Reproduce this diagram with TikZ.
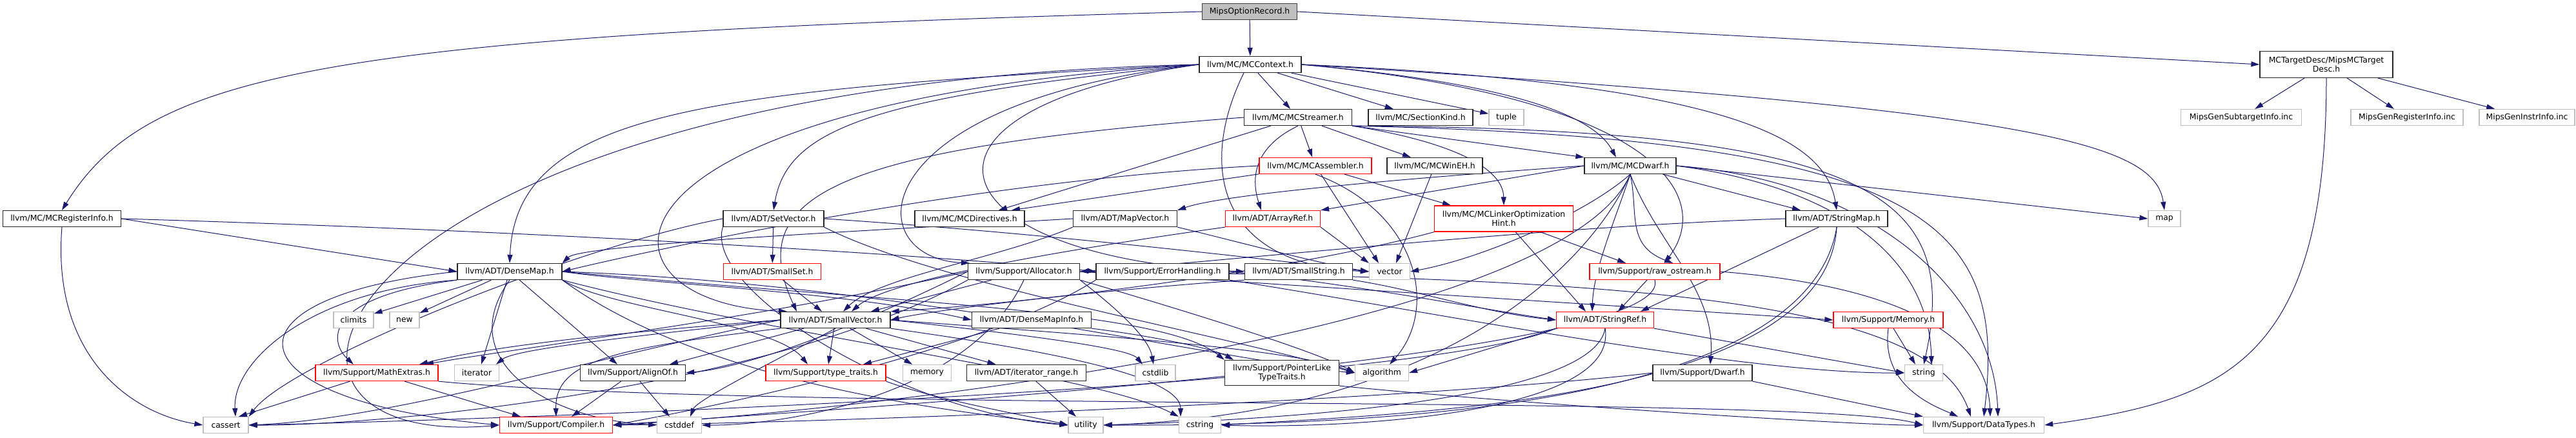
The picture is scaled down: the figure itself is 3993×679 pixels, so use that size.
\documentclass[tikz,border=0pt]{standalone}
\usepackage{fontspec}
\setmainfont{DejaVu Sans}
\usetikzlibrary{arrows.meta,backgrounds}
\definecolor{gline}{HTML}{191970}
\definecolor{gsysc}{HTML}{BFBFBF}
\tikzset{
  g graph/.style={x=1pt, y=1pt, font=\fontsize{12.4}{14}\selectfont},
  g box/.style={draw, line width=1.3pt, fill=white, align=center, minimum height=25, inner sep=0pt},
  g doc/.style={g box, draw=black!85},
  g red/.style={g box, draw=red},
  g sys/.style={g box, draw=gsysc},
  g top/.style={g box, draw=black!75, fill=gsysc},
  g arr/.style={draw=gline, line width=1pt, -{Triangle[length=13pt, width=8pt]}},
}
\begin{document}
\begin{tikzpicture}[g graph]
\useasboundingbox (0,0) rectangle (3993,-679);
% ---- rows 0-3 ----
\node[g top, minimum width=147] (mor) at (1937,-18) {MipsOptionRecord.h};
\node[g doc, minimum width=158] (ctx) at (1938,-100) {llvm/MC/MCContext.h};
\node[g doc, minimum width=206, minimum height=41] (td) at (3606,-100) {MCTargetDesc/MipsMCTarget\\Desc.h};
\node[g doc, minimum width=167] (str) at (2012,-182) {llvm/MC/MCStreamer.h};
\node[g doc, minimum width=162] (sk) at (2202,-182) {llvm/MC/SectionKind.h};
\node[g sys, minimum width=54] (tup) at (2335,-182) {tuple};
\node[g sys, minimum width=187] (gsub) at (3474,-182) {MipsGenSubtargetInfo.inc};
\node[g sys, minimum width=174] (greg) at (3731,-182) {MipsGenRegisterInfo.inc};
\node[g sys, minimum width=148] (gins) at (3917,-182) {MipsGenInstrInfo.inc};
\node[g red, minimum width=174] (asm) at (2039,-257) {llvm/MC/MCAssembler.h};
\node[g doc, minimum width=148] (weh) at (2224,-257) {llvm/MC/MCWinEH.h};
\node[g doc, minimum width=142] (dwf) at (2527,-257) {llvm/MC/MCDwarf.h};
% ---- row 4 ----
\node[g doc, minimum width=183] (reg) at (96,-339) {llvm/MC/MCRegisterInfo.h};
\node[g doc, minimum width=156] (setv) at (1199,-339) {llvm/ADT/SetVector.h};
\node[g doc, minimum width=170] (dir) at (1503,-339) {llvm/MC/MCDirectives.h};
\node[g doc, minimum width=161] (mapv) at (1744,-339) {llvm/ADT/MapVector.h};
\node[g red, minimum width=147] (aref) at (1973,-339) {llvm/ADT/ArrayRef.h};
\node[g red, minimum width=215, minimum height=40] (loh) at (2331,-339) {llvm/MC/MCLinkerOptimization\\Hint.h};
\node[g doc, minimum width=158] (smap) at (2847,-339) {llvm/ADT/StringMap.h};
\node[g sys, minimum width=50] (map) at (3355,-339) {map};
% ---- row 5 ----
\node[g doc, minimum width=162] (dmap) at (790,-421) {llvm/ADT/DenseMap.h};
\node[g red, minimum width=151] (sset) at (1197,-421) {llvm/ADT/SmallSet.h};
\node[g doc, minimum width=173] (alloc) at (1587,-421) {llvm/Support/Allocator.h};
\node[g doc, minimum width=206] (err) at (1802,-421) {llvm/Support/ErrorHandling.h};
\node[g doc, minimum width=167] (sstr) at (2013,-421) {llvm/ADT/SmallString.h};
\node[g sys, minimum width=63] (vec) at (2154,-421) {vector};
\node[g red, minimum width=202] (ros) at (2565,-421) {llvm/Support/raw\_ostream.h};
% ---- row 6 ----
\node[g sys, minimum width=62] (clim) at (548,-496) {climits};
\node[g sys, minimum width=46] (new) at (627,-496) {new};
\node[g doc, minimum width=170] (svec) at (1295,-496) {llvm/ADT/SmallVector.h};
\node[g doc, minimum width=185] (dmi) at (1599,-496) {llvm/ADT/DenseMapInfo.h};
\node[g red, minimum width=151] (sref) at (2488,-496) {llvm/ADT/StringRef.h};
\node[g red, minimum width=170] (mem) at (2927,-496) {llvm/Support/Memory.h};
% ---- row 7 ----
\node[g red, minimum width=190] (mext) at (584,-578) {llvm/Support/MathExtras.h};
\node[g sys, minimum width=69] (iter) at (739,-578) {iterator};
\node[g doc, minimum width=163] (algn) at (981,-578) {llvm/Support/AlignOf.h};
\node[g red, minimum width=186] (tt) at (1280,-578) {llvm/Support/type\_traits.h};
\node[g sys, minimum width=75] (memo) at (1437,-578) {memory};
\node[g doc, minimum width=185] (itr) at (1591,-578) {llvm/ADT/iterator\_range.h};
\node[g sys, minimum width=62] (cstdlib) at (1791,-578) {cstdlib};
\node[g doc, minimum width=177, minimum height=39] (plt) at (1987,-578) {llvm/Support/PointerLike\\TypeTraits.h};
\node[g sys, minimum width=83] (algo) at (2142,-578) {algorithm};
\node[g doc, minimum width=154] (dw) at (2639,-578) {llvm/Support/Dwarf.h};
\node[g sys, minimum width=59] (strg) at (2982,-578) {string};
% ---- row 8 ----
\node[g sys, minimum width=70] (cas) at (350,-659) {cassert};
\node[g red, minimum width=175] (comp) at (862,-659) {llvm/Support/Compiler.h};
\node[g sys, minimum width=69] (cstddef) at (1053,-659) {cstddef};
\node[g sys, minimum width=54] (util) at (1683,-659) {utility};
\node[g sys, minimum width=65] (cstr) at (1860,-659) {cstring};
\node[g sys, minimum width=187] (dt) at (3075,-659) {llvm/Support/DataTypes.h};
\begin{scope}[on background layer]
% ---- MipsOptionRecord.h, MipsMCTargetDesc.h ----
\draw[g arr] (mor.west) .. controls (500,-55) and (230,-110) .. (reg.north);
\draw[g arr] (mor) -- (ctx);
\draw[g arr] (mor.east) -- (td.west);
\draw[g arr] (td) -- (gsub); \draw[g arr] (td) -- (greg); \draw[g arr] (td) -- (gins);
\draw[g arr] (td.south) .. controls (3606,-560) and (3450,-620) .. (dt.east);
% ---- MCContext.h ----
\draw[g arr] (ctx) -- (str); \draw[g arr] (ctx) -- (sk); \draw[g arr] (ctx) -- (tup);
\draw[g arr] (ctx.east) .. controls (2350,-130) and (2470,-180) .. ([xshift=-22]dwf.north);
\draw[g arr] (ctx.east) .. controls (2560,-150) and (2660,-300) .. ([xshift=15]ros.north);
\draw[g arr] (ctx.east) .. controls (2700,-130) and (2830,-220) .. (smap.north);
\draw[g arr] (ctx.east) .. controls (3150,-170) and (3340,-220) .. (map.north);
\draw[g arr] (ctx.west) .. controls (1100,-140) and (800,-170) .. (dmap.north);
\draw[g arr] (ctx.west) .. controls (500,-130) and (300,-700) .. (comp.west);
\draw[g arr] (ctx.west) .. controls (880,-160) and (900,-470) .. ([xshift=-75]svec.north);
\draw[g arr] (ctx.west) .. controls (1350,-150) and (1220,-200) .. (setv.north);
\draw[g arr] (ctx.west) .. controls (1330,-160) and (1330,-400) .. ([xshift=3]alloc.north west);
\draw[g arr] (ctx.west) .. controls (1360,-170) and (1450,-400) .. (sstr.west);
\draw[g arr] ([xshift=-10]ctx.south) .. controls (1860,-250) and (1880,-410) .. (vec.west);
% ---- MCStreamer.h ----
\draw[g arr] (str) -- (asm); \draw[g arr] (str) -- (weh);
\draw[g arr] (str.south east) .. controls (2250,-220) and (2330,-260) .. (loh.north);
\draw[g arr] (str.south east) -- (dwf.north west);
\draw[g arr] (str) -- ([xshift=45]dir.north);
\draw[g arr] (str.south) .. controls (1940,-230) and (1940,-280) .. ([xshift=-18]aref.north);
\draw[g arr] (str.west) .. controls (1300,-230) and (1150,-300) .. ([xshift=-60]svec.north);
\draw[g arr] (str.south east) .. controls (2900,-200) and (3040,-300) .. (strg.north);
\draw[g arr] (str.south east) .. controls (3000,-215) and (3110,-350) .. (dt.north);
% ---- MCAssembler.h, MCWinEH.h ----
\draw[g arr] (asm) -- ([xshift=65]dir.north);
\draw[g arr] (asm) -- ([xshift=-82]loh.north);
\draw[g arr] (asm) -- ([xshift=-17]vec.north);
\draw[g arr] (asm.south) .. controls (2200,-330) and (2230,-480) .. ([xshift=12]algo.north);
\draw[g arr] (asm.west) .. controls (1500,-280) and (1000,-390) .. (dmap.east);
\draw[g arr] (weh) -- ([xshift=10]vec.north);
% ---- MCDwarf.h ----
\draw[g arr] (dwf.west) -- (aref.north east);
\draw[g arr] (dwf.west) .. controls (2200,-275) and (1900,-300) .. (mapv.north east);
\draw[g arr] (dwf.south) .. controls (2460,-330) and (2300,-400) .. (vec.east);
\draw[g arr] (dwf.south) .. controls (2540,-330) and (2520,-380) .. ([xshift=28]ros.north);
\draw[g arr] (dwf) -- ([xshift=-56]smap.north);
\draw[g arr] (dwf.south) .. controls (2500,-350) and (2470,-420) .. ([xshift=-20]sref.north);
\draw[g arr] (dwf.south) .. controls (2570,-380) and (2660,-450) .. ([xshift=12]dw.north);
\draw[g arr] (dwf.east) .. controls (2850,-290) and (2990,-400) .. ([xshift=12]strg.north);
\draw[g arr] (dwf.east) .. controls (2900,-280) and (3090,-450) .. ([xshift=22]dt.north);
\draw[g arr] (dwf.east) -- (map.west);
\draw[g arr] (dwf.south) .. controls (2470,-400) and (2250,-640) .. (util.east);
\draw[g arr] (dwf.south) .. controls (2420,-520) and (1300,-640) .. (comp.east);
% ---- MCRegisterInfo.h, SetVector.h, SmallSet.h ----
\draw[g arr] (reg.south) .. controls (80,-550) and (200,-640) .. (cas.west);
\draw[g arr] (reg.east) -- (dmap.west);
\draw[g arr] (reg.east) .. controls (900,-360) and (1500,-400) .. (err.west);
\draw[g arr] (setv) -- (sset);
\draw[g arr] (setv.east) .. controls (1600,-360) and (1950,-400) .. (vec.west);
\draw[g arr] (setv.south east) .. controls (1450,-440) and (1900,-520) .. (algo.west);
\draw[g arr] (setv.south west) .. controls (1090,-450) and (1400,-640) .. (util.west);
\draw[g arr] (setv.west) .. controls (900,-380) and (450,-560) .. (cas.north east);
\draw[g arr] (sset) -- ([xshift=-21]svec.north);
% ---- MapVector.h, ArrayRef.h, MCLinkerOptimizationHint.h, StringMap.h ----
\draw[g arr] (mapv.west) .. controls (1300,-360) and (900,-380) .. (dmap.north east);
\draw[g arr] (mapv.south west) .. controls (1550,-400) and (1360,-430) .. ([xshift=12]svec.north);
\draw[g arr] (mapv.south east) .. controls (1900,-370) and (2050,-410) .. (vec.west);
\draw[g arr] (aref.south west) .. controls (1700,-380) and (1380,-430) .. ([xshift=25]svec.north);
\draw[g arr] (aref.south east) -- (vec.north west);
\draw[g arr] (loh.south west) .. controls (2000,-420) and (1600,-470) .. (svec.north east);
\draw[g arr] (loh) -- ([xshift=-30]sref.north);
\draw[g arr] (loh) -- ([xshift=-45]ros.north);
\draw[g arr] (smap) -- ([xshift=55]sref.north);
\draw[g arr] (smap.west) .. controls (2400,-350) and (1900,-405) .. (alloc.east);
\draw[g arr] (smap.south) .. controls (2830,-620) and (2200,-640) .. (cstr.east);
\draw[g arr] (smap.south) .. controls (2800,-640) and (2100,-660) .. (util.east);
% ---- DenseMap.h ----
\draw[g arr] (dmap) -- (clim); \draw[g arr] (dmap) -- (new);
\draw[g arr] (dmap.south west) .. controls (500,-460) and (510,-530) .. ([xshift=-36]mext.north);
\draw[g arr] (dmap) -- ([xshift=7]iter.north);
\draw[g arr] (dmap) -- ([xshift=-24]algn.north);
\draw[g arr] (dmap.south west) .. controls (480,-450) and (360,-560) .. ([xshift=15]cas.north);
\draw[g arr] (dmap.west) .. controls (330,-460) and (350,-620) .. (comp.west);
\draw[g arr] (dmap.south) .. controls (700,-560) and (850,-650) .. (cstddef.west);
\draw[g arr] (dmap.east) .. controls (1000,-440) and (1300,-450) .. (dmi.west);
\draw[g arr] (dmap.east) .. controls (1400,-470) and (1800,-480) .. (plt.north west);
\draw[g arr] (dmap.south east) .. controls (950,-480) and (1200,-500) .. ([xshift=-28]tt.north);
\draw[g arr] (dmap.east) .. controls (1400,-440) and (1900,-560) .. (algo.west);
\draw[g arr] (dmap.south east) .. controls (1200,-520) and (1700,-580) .. (cstr.north west);
\draw[g arr] (dmap.south east) .. controls (1100,-600) and (1500,-640) .. (util.west);
% ---- SmallVector.h ----
\draw[g arr] (svec.west) .. controls (900,-520) and (750,-540) .. ([xshift=66]mext.north);
\draw[g arr] (svec.west) .. controls (1000,-520) and (800,-540) .. ([xshift=30]iter.north);
\draw[g arr] (svec) -- ([xshift=57]algn.north);
\draw[g arr] (svec) -- ([xshift=4]tt.north);
\draw[g arr] (svec) -- (memo); \draw[g arr] (svec) -- (itr);
\draw[g arr] (svec.east) .. controls (1600,-520) and (1750,-540) .. ([xshift=-20]cstdlib.north);
\draw[g arr] (svec.east) .. controls (1700,-520) and (2000,-540) .. (algo.west);
\draw[g arr] (svec.west) .. controls (900,-560) and (600,-650) .. (cas.east);
\draw[g arr] (svec.south west) .. controls (950,-540) and (860,-560) .. (comp.north);
\draw[g arr] (svec.south) .. controls (1200,-560) and (1080,-620) .. ([xshift=17]cstddef.north);
\draw[g arr] (svec.south east) .. controls (1600,-540) and (1830,-580) .. ([xshift=-30]cstr.north);
% ---- Allocator.h, ErrorHandling.h, SmallString.h, raw_ostream.h ----
\draw[g arr] (alloc) -- ([xshift=55]svec.north);
\draw[g arr] (alloc.west) .. controls (1300,-520) and (1150,-570) .. (algn.east);
\draw[g arr] (alloc.west) .. controls (1200,-490) and (800,-540) .. ([xshift=75]mext.north);
\draw[g arr] (alloc.east) -- (mem.west);
\draw[g arr] (alloc.east) .. controls (2500,-430) and (2990,-460) .. ([xshift=-20]dt.north);
\draw[g arr] (alloc.south west) .. controls (1200,-600) and (600,-660) .. (cas.east);
\draw[g arr] (alloc.south) .. controls (1500,-620) and (1200,-660) .. (cstddef.east);
\draw[g arr] (alloc.south east) .. controls (1720,-470) and (1780,-520) .. ([xshift=-3]cstdlib.north);
\draw[g arr] (alloc.south east) .. controls (1900,-500) and (2050,-550) .. (algo.west);
\draw[g arr] (err.east) .. controls (2100,-440) and (2300,-480) .. (sref.west);
\draw[g arr] (err.south west) .. controls (1500,-560) and (1000,-650) .. (comp.east);
\draw[g arr] (err.south east) .. controls (2200,-480) and (2700,-580) .. (strg.west);
\draw[g arr] (sstr.south west) .. controls (1700,-450) and (1450,-480) .. (svec.east);
\draw[g arr] (sstr.south east) .. controls (2200,-450) and (2300,-485) .. (sref.west);
\draw[g arr] (ros) -- ([xshift=20]sref.north);
\draw[g arr] (ros.south) .. controls (2600,-560) and (1200,-640) .. (comp.east);
\draw[g arr] (ros.east) .. controls (2900,-440) and (3080,-500) .. ([xshift=10]dt.north);
% ---- DenseMapInfo.h, StringRef.h, Memory.h ----
\draw[g arr] (dmi.south east) .. controls (1780,-520) and (1880,-540) .. ([xshift=-75]plt.north);
\draw[g arr] (dmi) -- ([xshift=58]tt.north);
\draw[g arr] (sref.south west) -- (algo.east);
\draw[g arr] (sref.south east) -- (strg.west);
\draw[g arr] (sref.south west) .. controls (2200,-600) and (800,-650) .. (cas.east);
\draw[g arr] (sref.south) .. controls (2470,-620) and (2000,-650) .. (util.east);
\draw[g arr] (sref.south) .. controls (2510,-640) and (2100,-665) .. (cstr.east);
\draw[g arr] (mem) -- ([xshift=-13]strg.north);
\draw[g arr] (mem.south) .. controls (2915,-600) and (3000,-630) .. ([xshift=-40]dt.north);
% ---- row 7 headers ----
\draw[g arr] (mext) -- ([xshift=20]cas.north);
\draw[g arr] (mext) -- ([xshift=-55]comp.north);
\draw[g arr] (mext.south east) .. controls (1200,-640) and (2800,-610) .. (dt.west);
\draw[g arr] (algn) -- ([xshift=24]comp.north);
\draw[g arr] (algn) -- ([xshift=-15]cstddef.north);
\draw[g arr] (tt.south east) .. controls (1450,-620) and (1620,-650) .. (util.west);
\draw[g arr] (itr) -- (util);
\draw[g arr] (plt.south east) .. controls (2400,-630) and (2900,-660) .. (dt.west);
\draw[g arr] (dw.south east) -- (dt.north west);
\draw[g arr] (dw.west) .. controls (2200,-620) and (1300,-655) .. (comp.east);
\end{scope}
\end{tikzpicture}
\end{document}
